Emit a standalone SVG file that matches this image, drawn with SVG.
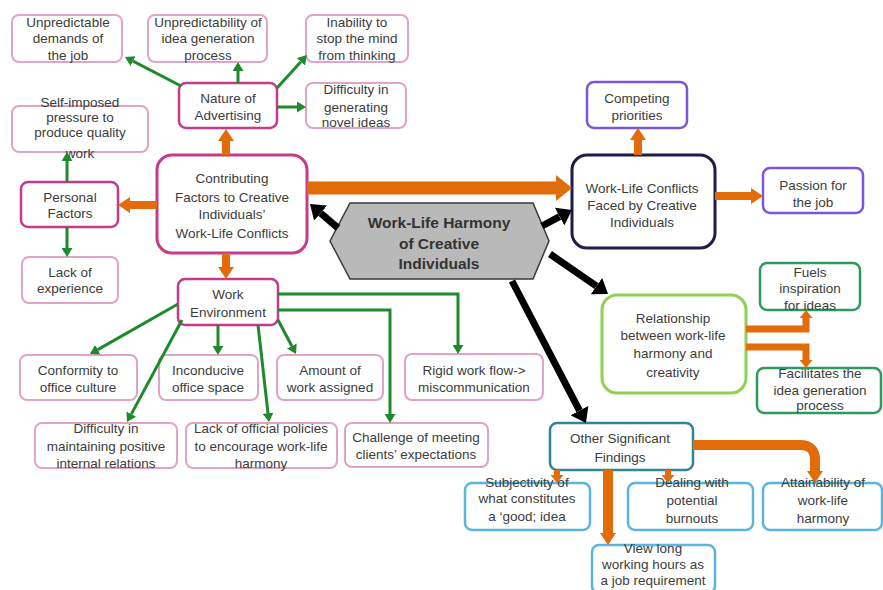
<svg xmlns="http://www.w3.org/2000/svg" width="883" height="590" viewBox="0 0 883 590">
<style>
text{font-family:"Liberation Sans",Arial,sans-serif;font-size:13.5px;fill:#3c3c3c;text-anchor:middle}
.hex text,text.hx{font-size:15.5px;font-weight:bold;fill:#333}
rect{fill:#fff}
.leaf{stroke:#e2a3c9;stroke-width:2}
.mag{stroke:#c63a8c;stroke-width:2.5}
.magT{stroke:#c63a8c;stroke-width:3}
.pur{stroke:#7d55d8;stroke-width:2.5}
.navy{stroke:#1f1b4a;stroke-width:3}
.lg{stroke:#92d050;stroke-width:3}
.gr{stroke:#2f9a5c;stroke-width:2.5}
.teal{stroke:#31849b;stroke-width:2.5}
.lb{stroke:#5ab6dc;stroke-width:2.5}
.o{fill:none;stroke:#e36c0a}
.g{fill:none;stroke:#1f8a2c;stroke-width:3}
.k{fill:none;stroke:#000;stroke-width:7}
</style>
<defs>
<marker id="aO" markerUnits="userSpaceOnUse" markerWidth="12" markerHeight="16" refX="0" refY="8" orient="auto" viewBox="0 0 12 16"><path d="M0,0L12,8L0,16z" fill="#e36c0a"/></marker>
<marker id="aOs" markerUnits="userSpaceOnUse" markerWidth="8" markerHeight="13" refX="0" refY="6.5" orient="auto" viewBox="0 0 8 13"><path d="M0,0L8,6.5L0,13z" fill="#e36c0a"/></marker>
<marker id="aOL" markerUnits="userSpaceOnUse" markerWidth="16" markerHeight="26" refX="0" refY="13" orient="auto" viewBox="0 0 16 26"><path d="M0,0L16,13L0,26z" fill="#e36c0a"/></marker>
<marker id="aG" markerUnits="userSpaceOnUse" markerWidth="9" markerHeight="11" refX="0" refY="5.5" orient="auto" viewBox="0 0 9 11"><path d="M0,0L9,5.5L0,11z" fill="#1f8a2c"/></marker>
<marker id="aK" markerUnits="userSpaceOnUse" markerWidth="14" markerHeight="20" refX="0" refY="10" orient="auto" viewBox="0 0 14 20"><path d="M0,0L14,10L0,20z" fill="#000"/></marker>
</defs>
<rect x="0" y="0" width="883" height="590" fill="#fff"/>

<g id="nodes">
<g id="n-demands"><rect class="leaf" x="12" y="15" width="110" height="47" rx="7"/><text><tspan x="68" y="27">Unpredictable</tspan><tspan x="68" y="43">demands of</tspan><tspan x="68" y="60">the job</tspan></text></g>
<g id="n-ideagen"><rect class="leaf" x="148" y="15" width="119" height="47" rx="7"/><text><tspan x="208" y="27">Unpredictability of</tspan><tspan x="208" y="43">idea generation</tspan><tspan x="208" y="60">process</tspan></text></g>
<g id="n-inability"><rect class="leaf" x="306" y="15" width="102" height="47" rx="7"/><text><tspan x="357" y="27">Inability to</tspan><tspan x="357" y="43">stop the mind</tspan><tspan x="357" y="60">from thinking</tspan></text></g>
<g id="n-novel"><rect class="leaf" x="306" y="83" width="100" height="45" rx="7"/><text><tspan x="356" y="94">Difficulty in</tspan><tspan x="356" y="112">generating</tspan><tspan x="356" y="127">novel ideas</tspan></text></g>
<g id="n-nature"><rect class="mag" x="179" y="83" width="98" height="45" rx="7"/><text><tspan x="228" y="103">Nature of</tspan><tspan x="228" y="120">Advertising</tspan></text></g>
<g id="n-selfimposed"><rect class="leaf" x="12" y="106" width="136" height="46" rx="7"/><text><tspan x="80" y="107">Self-imposed</tspan><tspan x="80" y="122">pressure to</tspan><tspan x="80" y="137">produce quality</tspan><tspan x="80" y="158">work</tspan></text></g>
<g id="n-personal"><rect class="mag" x="21" y="182" width="97" height="45" rx="7"/><text><tspan x="70" y="202">Personal</tspan><tspan x="70" y="218">Factors</tspan></text></g>
<g id="n-lackexp"><rect class="leaf" x="22" y="257" width="96" height="46" rx="7"/><text><tspan x="70" y="277">Lack of</tspan><tspan x="70" y="293">experience</tspan></text></g>
<g id="n-contributing"><rect class="magT" x="157" y="155" width="150" height="98" rx="15"/><text><tspan x="232" y="183">Contributing</tspan><tspan x="232" y="202">Factors to Creative</tspan><tspan x="232" y="219">Individuals’</tspan><tspan x="232" y="238">Work-Life Conflicts</tspan></text></g>
<g id="n-center" class="hex"><polygon points="330,241 350,203 533,203 549,241 533,279 350,279" fill="#b9b9b9" stroke="#3a3a3a" stroke-width="1.5"/><text class="hx"><tspan x="439" y="227.5">Work-Life Harmony</tspan><tspan x="439" y="248.5">of Creative</tspan><tspan x="439" y="268.5">Individuals</tspan></text></g>
<g id="n-wlc"><rect class="navy" x="572" y="155" width="143" height="93" rx="15"/><text><tspan x="642" y="193">Work-Life Conflicts</tspan><tspan x="642" y="210">Faced by Creative</tspan><tspan x="642" y="227">Individuals</tspan></text></g>
<g id="n-competing"><rect class="pur" x="587" y="82" width="100" height="46" rx="7"/><text><tspan x="637" y="103">Competing</tspan><tspan x="637" y="120">priorities</tspan></text></g>
<g id="n-passion"><rect class="pur" x="763" y="168" width="100" height="45" rx="7"/><text><tspan x="813" y="190">Passion for</tspan><tspan x="813" y="207">the job</tspan></text></g>
<g id="n-workenv"><rect class="mag" x="178" y="279" width="100" height="46" rx="7"/><text><tspan x="228" y="299">Work</tspan><tspan x="228" y="317">Environment</tspan></text></g>
<g id="n-conformity"><rect class="leaf" x="20" y="355" width="117" height="45" rx="7"/><text><tspan x="78" y="375">Conformity to</tspan><tspan x="78" y="392">office culture</tspan></text></g>
<g id="n-inconducive"><rect class="leaf" x="159" y="355" width="99" height="45" rx="7"/><text><tspan x="208" y="375">Inconducive</tspan><tspan x="208" y="392">office space</tspan></text></g>
<g id="n-amount"><rect class="leaf" x="277" y="355" width="106" height="45" rx="7"/><text><tspan x="330" y="375">Amount of</tspan><tspan x="330" y="392">work assigned</tspan></text></g>
<g id="n-rigid"><rect class="leaf" x="405" y="354" width="138" height="46" rx="7"/><text><tspan x="474" y="375">Rigid work flow-&gt;</tspan><tspan x="474" y="392">miscommunication</tspan></text></g>
<g id="n-relations"><rect class="leaf" x="35" y="423" width="142" height="45" rx="7"/><text><tspan x="106" y="433">Difficulty in</tspan><tspan x="106" y="451">maintaining positive</tspan><tspan x="106" y="468">internal relations</tspan></text></g>
<g id="n-policies"><rect class="leaf" x="186" y="423" width="151" height="45" rx="7"/><text><tspan x="261" y="433">Lack of official policies</tspan><tspan x="261" y="451">to encourage work-life</tspan><tspan x="261" y="468">harmony</tspan></text></g>
<g id="n-clients"><rect class="leaf" x="345" y="423" width="143" height="44" rx="7"/><text><tspan x="416" y="442">Challenge of meeting</tspan><tspan x="416" y="459">clients’ expectations</tspan></text></g>
<g id="n-relationship"><rect class="lg" x="602" y="295" width="144" height="98" rx="15"/><text><tspan x="673" y="323">Relationship</tspan><tspan x="673" y="340">between work-life</tspan><tspan x="673" y="358">harmony and</tspan><tspan x="673" y="377">creativity</tspan></text></g>
<g id="n-fuels"><rect class="gr" x="760" y="263" width="100" height="47" rx="7"/><text><tspan x="810" y="277">Fuels</tspan><tspan x="810" y="293">inspiration</tspan><tspan x="810" y="310">for ideas</tspan></text></g>
<g id="n-facilitates"><rect class="gr" x="757" y="368" width="124" height="45" rx="7"/><text><tspan x="820" y="378">Facilitates the</tspan><tspan x="820" y="395">idea generation</tspan><tspan x="820" y="410">process</tspan></text></g>
<g id="n-other"><rect class="teal" x="550" y="423" width="143" height="47" rx="7"/><text><tspan x="620" y="443">Other Significant</tspan><tspan x="620" y="462">Findings</tspan></text></g>
<g id="n-subjectivity"><rect class="lb" x="465" y="483" width="125" height="47" rx="7"/><text><tspan x="527" y="487">Subjectivity of</tspan><tspan x="527" y="503">what constitutes</tspan><tspan x="527" y="521">a ‘good; idea</tspan></text></g>
<g id="n-burnouts"><rect class="lb" x="628" y="483" width="125" height="47" rx="7"/><text><tspan x="692" y="487">Dealing with</tspan><tspan x="692" y="505">potential</tspan><tspan x="692" y="523">burnouts</tspan></text></g>
<g id="n-attainability"><rect class="lb" x="763" y="483" width="119" height="47" rx="7"/><text><tspan x="823" y="487">Attainability of</tspan><tspan x="823" y="505">work-life</tspan><tspan x="823" y="523">harmony</tspan></text></g>
<g id="n-longhours"><rect class="lb" x="592" y="545" width="123" height="48" rx="7"/><text><tspan x="653" y="553">View long</tspan><tspan x="653" y="569">working hours as</tspan><tspan x="653" y="585">a job requirement</tspan></text></g>
</g>

<g id="connectors">
<path class="o" stroke-width="8" d="M226,155V141" marker-end="url(#aO)"/>
<path class="o" stroke-width="8" d="M157,205H130" marker-end="url(#aO)"/>
<path class="o" stroke-width="8" d="M226,253V267" marker-end="url(#aO)"/>
<path class="o" stroke-width="13" d="M307,188H556" marker-end="url(#aOL)"/>
<path class="o" stroke-width="8" d="M638,155V140" marker-end="url(#aO)"/>
<path class="o" stroke-width="8" d="M715,196H751" marker-end="url(#aO)"/>
<path class="o" stroke-width="7" d="M746,329H806V318" marker-end="url(#aOs)"/>
<path class="o" stroke-width="7" d="M746,347H806V360" marker-end="url(#aOs)"/>
<path class="o" stroke-width="6" d="M557,470V475" marker-end="url(#aOs)"/>
<path class="o" stroke-width="10" d="M608,470V533" marker-end="url(#aO)"/>
<path class="o" stroke-width="6" d="M668,470V475" marker-end="url(#aOs)"/>
<path class="o" stroke-width="10" d="M693,445H800Q815,445 815,460V471" marker-end="url(#aO)"/>

<path class="g" d="M181,86L133,61.1" marker-end="url(#aG)"/>
<path class="g" d="M238,83V71" marker-end="url(#aG)"/>
<path class="g" d="M277,88L300.9,61.7" marker-end="url(#aG)"/>
<path class="g" d="M277,107H297" marker-end="url(#aG)"/>
<path class="g" d="M67,182V161" marker-end="url(#aG)"/>
<path class="g" d="M67,227V248" marker-end="url(#aG)"/>
<path class="g" d="M178,304L97.8,349.6" marker-end="url(#aG)"/>
<path class="g" d="M182,320L131.3,414.1" marker-end="url(#aG)"/>
<path class="g" d="M218,325V346" marker-end="url(#aG)"/>
<path class="g" d="M258,325L268,413.1" marker-end="url(#aG)"/>
<path class="g" d="M278,320L291.8,346" marker-end="url(#aG)"/>
<path class="g" d="M278,310H390V414" marker-end="url(#aG)"/>
<path class="g" d="M278,294H458V345" marker-end="url(#aG)"/>

<path class="k" d="M338,228L320.6,213.1" marker-end="url(#aK)"/>
<path class="k" d="M542,226L559.6,216.6" marker-end="url(#aK)"/>
<path class="k" d="M550,254L596.5,286.1" marker-end="url(#aK)"/>
<path class="k" d="M512,281L579.5,410.6" marker-end="url(#aK)"/>
</g>
</svg>
